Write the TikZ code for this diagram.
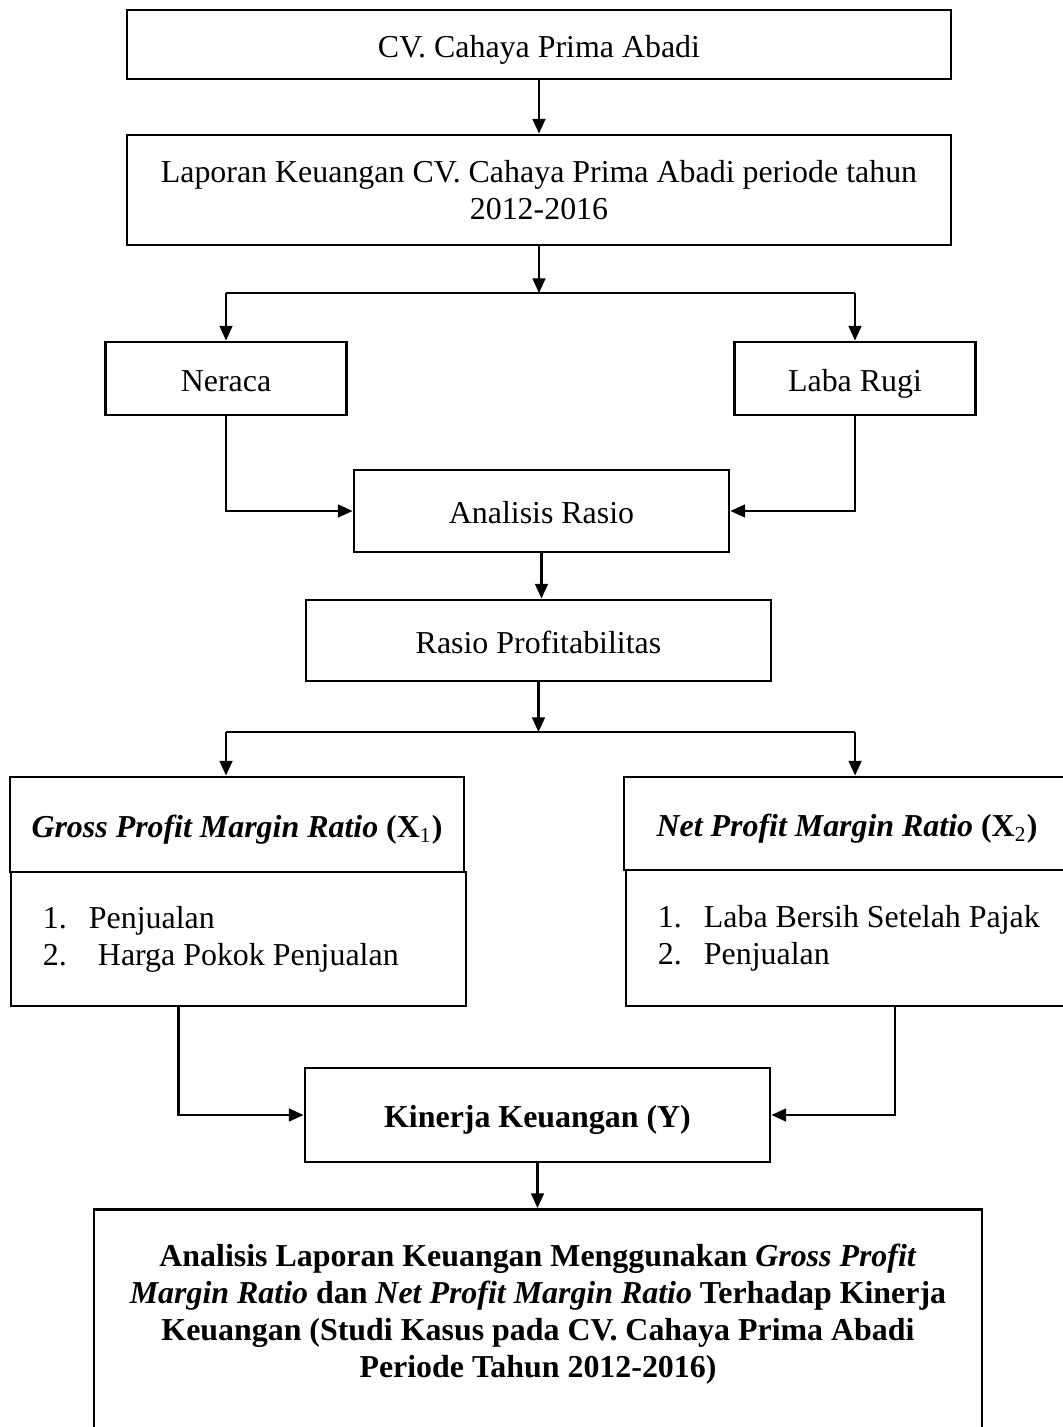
\documentclass[tikz,border=0pt]{standalone}
\usepackage{fontspec}
\setmainfont{Liberation Serif}
\usetikzlibrary{arrows.meta,calc}
\newcommand\pxu[1]{#1*0.376pt}
\begin{document}
\begin{tikzpicture}[x=0.376pt,y=-0.376pt,
  box/.style={draw, line width=1.1pt, inner sep=0pt, align=center,
    font=\fontsize{12pt}{13.9pt}\selectfont},
  one/.style={text height=10.3pt, text depth=0.7pt},
  list/.style={align=flush left},
  arr/.style={line width=0.8pt, -{Triangle[length=5.5pt,width=4.8pt]}},
  ln/.style={line width=0.8pt}]
\useasboundingbox (0,0) rectangle (1062,1427);

\node[box, one, minimum width=\pxu{824}, minimum height=\pxu{69}] (b1) at (539,44.5) {CV. Cahaya Prima Abadi};
\node[box, minimum width=\pxu{824}, minimum height=\pxu{110}] (b2) at (539,190) {Laporan Keuangan CV. Cahaya Prima Abadi periode tahun\\2012-2016};
\node[box, one, minimum width=\pxu{241}, minimum height=\pxu{73}] (ner) at (226,378.5) {Neraca};
\node[box, one, minimum width=\pxu{241}, minimum height=\pxu{73}] (lr) at (855,378.5) {Laba Rugi};
\node[box, one, minimum width=\pxu{375}, minimum height=\pxu{82}] (ana) at (541.5,511) {Analisis Rasio};
\node[box, one, minimum width=\pxu{465}, minimum height=\pxu{81}] (rp) at (538.5,640.5) {Rasio Profitabilitas};

\node[box, one, minimum width=\pxu{454}, minimum height=\pxu{95}] (gh) at (237,824.5)
  {\textbf{\textit{Gross Profit Margin Ratio}} \textbf{(X}\textsubscript{1}\textbf{)}};
\node[box, list, minimum width=\pxu{455}, minimum height=\pxu{134}, text width=\pxu{455}] (gb) at (238.5,939)
  {\hspace*{12pt}\makebox[17.3pt][l]{1.}Penjualan\\\hspace*{12pt}\makebox[17.3pt][l]{2.}\hspace{3.4pt}Harga Pokok Penjualan};
\node[box, one, minimum width=\pxu{446}, minimum height=\pxu{93}] (nh) at (847,823.5)
  {\textbf{\textit{Net Profit Margin Ratio}} \textbf{(X}\textsubscript{2}\textbf{)}};
\node[box, list, minimum width=\pxu{444}, minimum height=\pxu{136}, text width=\pxu{444}] (nb) at (848,938)
  {\hspace*{12pt}\makebox[17.3pt][l]{1.}Laba Bersih Setelah Pajak\\\hspace*{12pt}\makebox[17.3pt][l]{2.}Penjualan};

\node[box, one, minimum width=\pxu{465}, minimum height=\pxu{94}] (kin) at (537.5,1115) {\textbf{Kinerja Keuangan (Y)}};
\node[box, minimum width=\pxu{888}, minimum height=\pxu{240}, anchor=north, font=\fontsize{12pt}{13.9pt}\selectfont\bfseries] (fin) at (538,1208)
  {Analisis Laporan Keuangan Menggunakan \textit{Gross Profit}\\
   \textit{Margin Ratio} dan \textit{Net Profit Margin Ratio} Terhadap Kinerja\\
   Keuangan (Studi Kasus pada CV. Cahaya Prima Abadi\\
   Periode Tahun 2012-2016)\\\mbox{}};

% connectors
\draw[arr] (b1.south) -- (b2.north);
\coordinate (j1) at (539,293);
\draw[arr] (b2.south) -- (j1);
\draw[ln] (ner.north |- j1) -- (lr.north |- j1);
\draw[arr] (ner.north |- j1) -- (ner.north);
\draw[arr] (lr.north |- j1) -- (lr.north);
\draw[arr] (ner.south) |- (ana.west);
\draw[arr] (lr.south) |- (ana.east);
\draw[arr] (ana.south) -- (ana.south |- rp.north);

\coordinate (j2) at (538.5,732);
\draw[arr] (rp.south) -- (j2);
\coordinate (ga) at ($(gh.north west)!0.476!(gh.north east)$);
\coordinate (na) at ($(nh.north west)!0.518!(nh.north east)$);
\draw[ln] (ga |- j2) -- (na |- j2);
\draw[arr] (ga |- j2) -- (ga);
\draw[arr] (na |- j2) -- (na);
\draw[arr] ($(gb.south west)!0.369!(gb.south east)$) |- (kin.west);
\draw[arr] ($(nb.south west)!0.606!(nb.south east)$) |- (kin.east);
\draw[arr] (kin.south) -- (kin.south |- fin.north);
\end{tikzpicture}
\end{document}
